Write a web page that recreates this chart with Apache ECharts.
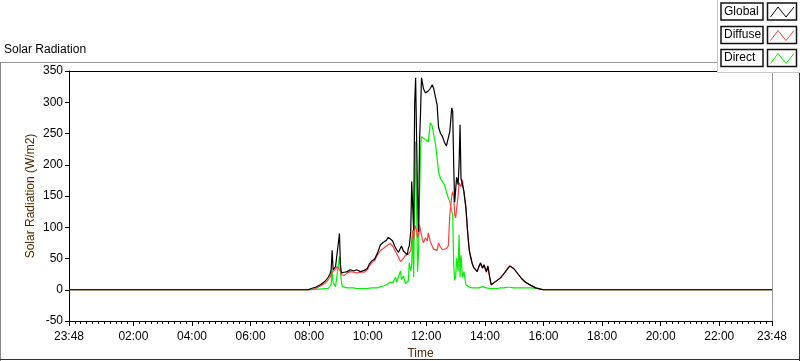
<!DOCTYPE html>
<html>
<head>
<meta charset="utf-8">
<script src="https://cdn.jsdelivr.net/npm/echarts@6/dist/echarts.min.js"></script>
<style>html,body{margin:0;padding:0;background:#fff}#c{width:800px;height:361px}</style>
</head>
<body>
<div id="c"></div>
<script>
// time in minutes after midnight (23:48 of previous day = -12)
var times = [-12,462,478,484,493,503,513,519,523,525,527,529,534,538,542,544,546,548,552,558,564,571,577,585,593,599,603,608,614,620,626,632,638,642,646,651,655,657,659,663,667,669,673,677,681,683,685,688,690,692,694,696,698,700,702,704,706,708,710,712,714,718,722,724,728,732,735,739,742,745,749,753,757,761,765,768,772,774,776,778,780,782,785,787,789,791,794,797,801,805,808,811,814,817,821,824,828,831,835,838,843,846,850,853,858,865,872,879,886,891,895,899,903,909,915,923,934,944,954,960,1368,1370,1372,1428];
var globalVals = [0,0,0,2,4,8,14,20,26,32,63,32,37,38,90,40,27,26,28,29,32,30,32,29,31,34,41,46,49,59,72,76,79,84,82,78,70,68,64,60,59,70,62,64,56,66,70,93,173,176,95,296,339,339,147,93,237,280,339,331,322,315,312,318,322,328,322,307,296,260,250,245,236,230,232,253,291,285,200,140,160,180,168,200,264,178,180,157,131,88,63,52,42,36,37,29,38,43,35,40,29,38,19,8,11,15,19,26,33,38,36,34,30,24,18,12,7,3,1,0,0,0,0,0];
var diffuseVals = [0,0,0,0,2,6,11,16,20,24,28,30,33,37,36,30,24,21,23,27,29,28,27,28,28,32,38,43,47,56,63,66,70,73,74,70,64,62,58,52,45,47,50,55,52,57,60,62,65,95,80,104,99,95,83,90,104,95,88,80,75,83,78,91,77,70,65,62,63,75,68,64,65,66,70,120,150,157,149,120,115,130,150,171,168,165,176,155,131,86,62,51,41,35,36,29,37,42,34,39,28,37,18,8,11,15,19,26,34,38,37,34,30,24,18,12,7,3,1,0,0,0,0,0];
var directVals = [0,0,0,0,1,1,2,2,4,8,32,12,5,29,53,30,12,5,7,3,3,3,2,2,2,2,2,3,3,3,5,6,8,10,12,11,12,20,12,10,30,16,22,10,12,14,43,30,40,93,20,150,237,235,29,60,147,225,245,245,243,240,242,237,267,262,248,232,211,189,178,173,168,157,147,141,125,120,40,15,20,51,30,88,20,55,20,29,8,5,4,3,3,3,3,3,3,4,5,4,3,3,2,2,2,2,3,3,4,4,4,3,3,3,3,3,3,2,1,0,0,1,0,0];
var yTicks = [-50,0,50,100,150,200,250,300,350];
var xLabelValues = [-12,120,240,360,480,600,720,840,960,1080,1200,1320,1428];

function pair(vals){ return times.map(function(t,i){ return [t, vals[i]]; }); }
var minorTicks = [];
for (var m = -12; m <= 1428; m += 12) minorTicks.push(m);
function fmt(v){
  var mm = ((Math.round(v) % 1440) + 1440) % 1440;
  var h = Math.floor(mm/60), n = mm % 60;
  return (h<10?'0':'')+h+':'+(n<10?'0':'')+n;
}
var FONT = 'Liberation Sans';
var chart = echarts.init(document.getElementById('c'), null, {renderer:'canvas'});
var legendRows = [['Global','#000000',3],['Diffuse','#ff4040',26.5],['Direct','#00ee00',49.5]];
var gfx = [
  {type:'line', z:1, shape:{x1:0,y1:62.5,x2:718,y2:62.5}, style:{stroke:'#999',lineWidth:1}},
  {type:'line', z:1, shape:{x1:0.5,y1:62,x2:0.5,y2:361}, style:{stroke:'#888',lineWidth:1}},
  {type:'line', z:1, shape:{x1:0,y1:359.5,x2:800,y2:359.5}, style:{stroke:'#333',lineWidth:1}},
  {type:'line', z:1, shape:{x1:799.5,y1:62,x2:799.5,y2:361}, style:{stroke:'#333',lineWidth:1}},
  {type:'text', z:1, left:4, top:44, style:{text:'Solar Radiation', font:'12px '+FONT, fill:'#000'}},
  {type:'rect', z:100, shape:{x:717.5,y:-1,width:84,height:73.5}, style:{fill:'#fff',stroke:'#c8c8c8',lineWidth:1}}
];
legendRows.forEach(function(r){
  var y = r[2];
  gfx.push({type:'rect', z:101, shape:{x:721,y:y,width:42,height:17}, style:{fill:'#fff',stroke:'#111',lineWidth:1.5}});
  gfx.push({type:'text', z:102, x:724, y:y+2.5, style:{text:r[0], font:'12px '+FONT, fill:'#000'}});
  gfx.push({type:'rect', z:101, shape:{x:767.5,y:y,width:29,height:17}, style:{fill:'#fff',stroke:'#111',lineWidth:1.5}});
  gfx.push({type:'polyline', z:102, shape:{points:[[770.5,y+14],[778,y+4],[786,y+14],[794,y+4]]}, style:{stroke:r[1],lineWidth:1,fill:null}});
});

var lineSeries = function(name, vals, color, z){
  return {name:name, type:'line', data:pair(vals), showSymbol:false, symbol:'none', z:z,
    lineStyle:{color:color, width:1.2}, itemStyle:{color:color}, animation:false, clip:true};
};

chart.setOption({
  animation:false,
  backgroundColor:'#fff',
  grid:{left:69, right:28, top:71, bottom:40, containLabel:false, outerBoundsMode:'none'},
  xAxis:[
    {type:'value', min:-12, max:1428, position:'bottom',
     name:'Time', nameLocation:'middle', nameGap:27, nameMoveOverlap:false,
     nameTextStyle:{color:'#4d2600', fontSize:12, fontFamily:FONT},
     axisLine:{show:true, onZero:false, lineStyle:{color:'#000', width:1}},
     axisTick:{show:true, customValues:xLabelValues, length:5, lineStyle:{color:'#000'}},
     axisLabel:{show:true, customValues:xLabelValues, formatter:fmt, color:'#000', fontSize:12, fontFamily:FONT, margin:10},
     splitLine:{show:false}},
    {type:'value', min:-12, max:1428, position:'bottom',
     axisLine:{show:false, onZero:false},
     axisTick:{show:true, customValues:minorTicks, length:3, lineStyle:{color:'#000'}},
     axisLabel:{show:false}, splitLine:{show:false}},
    {type:'value', min:-12, max:1428, position:'top',
     axisLine:{show:true, onZero:false, lineStyle:{color:'#000', width:1}},
     axisTick:{show:false}, axisLabel:{show:false}, splitLine:{show:false}}
  ],
  yAxis:[
    {type:'value', min:-50, max:350, interval:50, position:'left',
     name:'Solar Radiation (W/m2)', nameLocation:'middle', nameGap:32, nameRotate:90, nameMoveOverlap:false,
     nameTextStyle:{color:'#4d2600', fontSize:12, fontFamily:FONT},
     axisLine:{show:true, onZero:false, lineStyle:{color:'#000', width:1}},
     axisTick:{show:true, length:4, lineStyle:{color:'#000'}},
     axisLabel:{color:'#000', fontSize:12, fontFamily:FONT, margin:6},
     splitLine:{show:false}},
    {type:'value', min:-50, max:350, interval:50, position:'right',
     axisLine:{show:true, onZero:false, lineStyle:{color:'#999', width:1}},
     axisTick:{show:false}, axisLabel:{show:false}, splitLine:{show:false}}
  ],
  series:[
    lineSeries('Direct', directVals, '#00ee00', 2),
    lineSeries('Diffuse', diffuseVals, '#ff4040', 3),
    lineSeries('Global', globalVals, '#000000', 4)
  ],
  graphic: gfx
});
</script>
</body>
</html>
